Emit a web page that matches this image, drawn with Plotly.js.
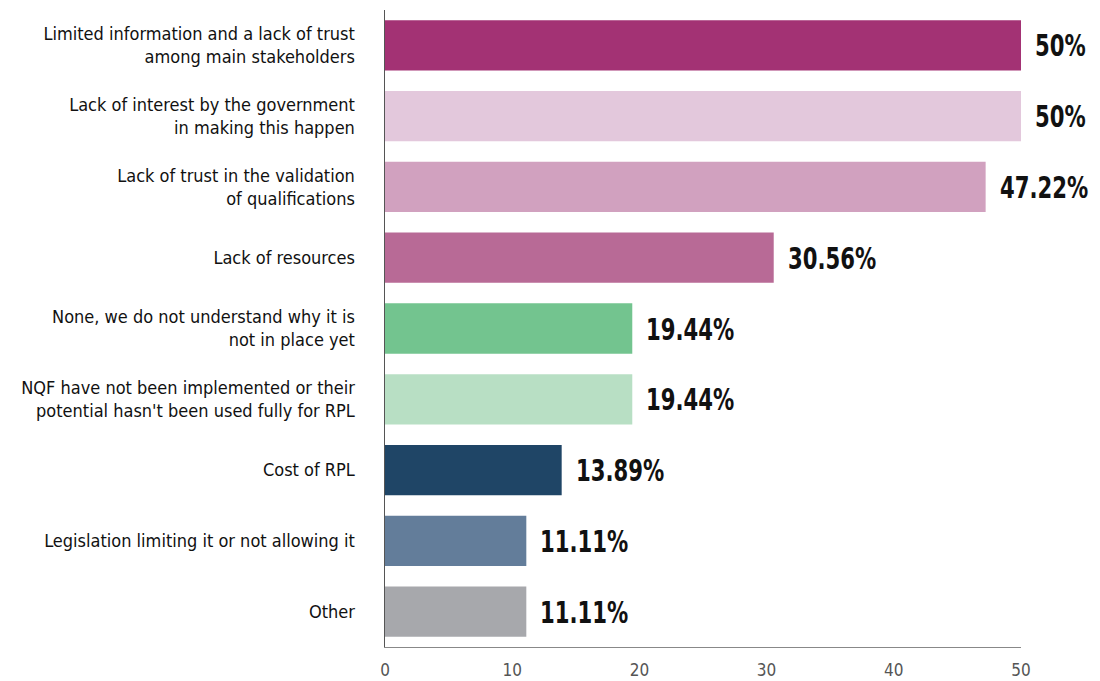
<!DOCTYPE html>
<html><head><meta charset="utf-8">
<script src="https://cdn.plot.ly/plotly-3.0.1.min.js"></script>
<style>body{margin:0;background:#fff}#chart{width:1100px;height:681px}</style>
</head><body><div id="chart"></div>
<script>
const categories = [
  "Limited information and a lack of trust<br>among main stakeholders",
  "Lack of interest by the government<br>in making this happen",
  "Lack of trust in the validation<br>of qualifications",
  "Lack of resources",
  "None, we do not understand why it is<br>not in place yet",
  "NQF have not been implemented or their<br>potential hasn't been used fully for RPL",
  "Cost of RPL",
  "Legislation limiting it or not allowing it",
  "Other"
];
const values = [50, 50, 47.22, 30.56, 19.44, 19.44, 13.89, 11.11, 11.11];
const valueLabels = ["50%", "50%", "47.22%", "30.56%", "19.44%", "19.44%", "13.89%", "11.11%", "11.11%"];
const colors = ["#A33274", "#E3C8DC", "#D1A1BF", "#B86A96", "#73C48F", "#B8DFC4", "#1F4566", "#637D9A", "#A7A8AC"];
const tickVals = [0, 10, 20, 30, 40, 50];

const FONT = "'DejaVu Sans Condensed', 'Liberation Sans Narrow', sans-serif";

const trace = {
  type: 'bar', orientation: 'h',
  x: values, y: categories,
  marker: {color: colors},
  width: 0.71,
  hoverinfo: 'skip'
};

const annotations = values.map((v, i) => ({
  x: v, y: categories[i], xref: 'x', yref: 'y',
  text: '<b>' + valueLabels[i] + '</b>',
  showarrow: false, xanchor: 'left', yanchor: 'middle', xshift: 12,
  font: {family: FONT, size: 31, color: '#111'}
}));

const layout = {
  width: 1100, height: 681,
  margin: {l: 385, r: 79, t: 10, b: 34},
  paper_bgcolor: '#fff', plot_bgcolor: '#fff',
  showlegend: false,
  font: {family: FONT},
  xaxis: {
    range: [0, 50], tickvals: tickVals, ticks: '', showgrid: false, zeroline: false,
    showline: true, linecolor: '#888', linewidth: 1.3,
    tickfont: {family: FONT, size: 17, color: '#555'}, ticklabelstandoff: 7
  },
  yaxis: {
    autorange: false, range: [8.5, -0.5], type: 'category',
    ticks: '', showgrid: false, zeroline: false,
    showline: true, linecolor: '#555', linewidth: 1.5,
    tickfont: {family: FONT, size: 18, color: '#111'}, ticklabelstandoff: 25
  },
  annotations: annotations
};

Plotly.newPlot('chart', [trace], layout, {displayModeBar: false, staticPlot: true}).then(gd => {
  // condense the bold value labels horizontally, keeping their left edge fixed
  gd.querySelectorAll('.annotation-text').forEach(t => {
    const bb = t.getBBox();
    const x0 = bb.x;
    t.setAttribute('transform', `translate(${x0},0) scale(0.76,1) translate(${-x0},0)`);
  });
});
</script></body></html>
